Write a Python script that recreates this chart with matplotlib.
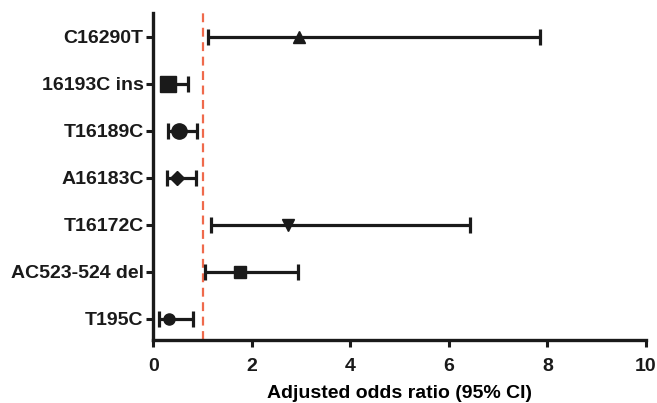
import matplotlib.pyplot as plt

plt.rcParams['font.family'] = ['Liberation Sans', 'DejaVu Sans']
plt.rcParams['font.weight'] = 'bold'

variants = ["C16290T", "16193C ins", "T16189C", "A16183C", "T16172C", "AC523-524 del", "T195C"]
odds = [2.96, 0.30, 0.52, 0.49, 2.74, 1.75, 0.32]
lower = [1.12, 0.18, 0.30, 0.27, 1.17, 1.04, 0.12]
upper = [7.84, 0.71, 0.89, 0.87, 6.42, 2.93, 0.81]
markers = ["^", "s", "o", "D", "v", "s", "o"]
msizes = [8, 12, 11, 7, 8, 9, 8]
ref_line = 1.0

fig = plt.figure(figsize=(6.57, 4.03), dpi=100)
ax = fig.add_axes([0.2333, 0.156, 0.75, 0.811])

n = len(variants)
for i, (name, o, lo, hi, m, ms) in enumerate(zip(variants, odds, lower, upper, markers, msizes)):
    y = n - i
    ax.errorbar(o, y, xerr=[[o - lo], [hi - o]], fmt=m, color="#1a1a1a",
                ms=ms, elinewidth=2.3, capsize=5.5, capthick=2.3)

ax.axvline(ref_line, color="#EF6A4C", ls=(0, (4, 2.5)), lw=1.6, zorder=0)

ax.set_xlim(0, 10)
ax.set_ylim(0.55, 7.5)
ax.set_xticks(range(0, 11, 2))
ax.set_yticks(range(n, 0, -1))
ax.set_yticklabels(variants)
ax.set_xlabel("Adjusted odds ratio (95% CI)", fontsize=14, fontweight="bold", labelpad=7)

for s in ["top", "right"]:
    ax.spines[s].set_visible(False)
for s in ["left", "bottom"]:
    ax.spines[s].set_linewidth(2.4)
    ax.spines[s].set_color("#1a1a1a")
ax.tick_params(width=2.2, length=5, labelsize=14, colors="#1a1a1a", pad=2)
ax.tick_params(axis="x", pad=8)

fig.savefig("out.png", dpi=100)
